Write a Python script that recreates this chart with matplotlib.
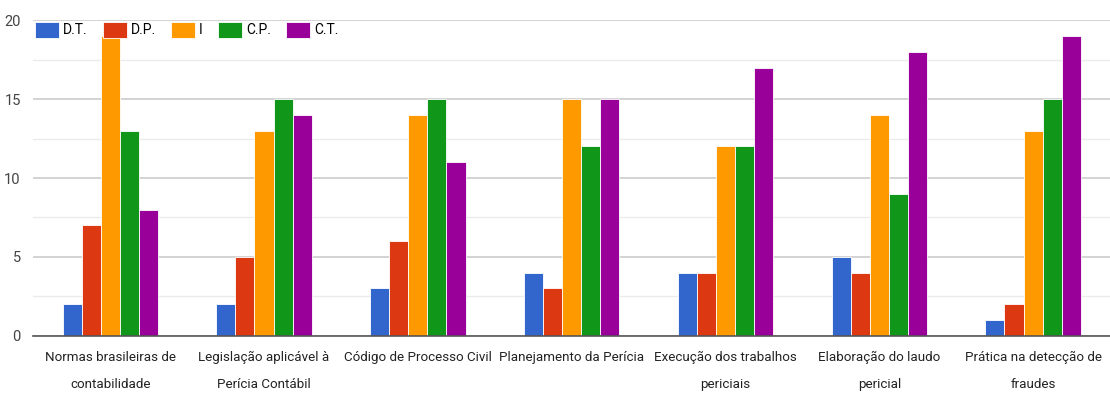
import matplotlib.pyplot as plt
import numpy as np

plt.rcParams['font.family'] = ['Roboto', 'DejaVu Sans']

categories = ["Normas brasileiras de\ncontabilidade",
              "Legislação aplicável à\nPerícia Contábil",
              "Código de Processo Civil",
              "Planejamento da Perícia",
              "Execução dos trabalhos\npericiais",
              "Elaboração do laudo\npericial",
              "Prática na detecção de\nfraudes"]
series = ["D.T.", "D.P.", "I", "C.P.", "C.T."]
dt = [2, 2, 3, 4, 4, 5, 1]
dp = [7, 5, 6, 3, 4, 4, 2]
ii = [19, 13, 14, 15, 12, 14, 13]
cp = [13, 15, 15, 12, 12, 9, 15]
ct = [8, 14, 11, 15, 17, 18, 19]
colors = ["#3366cc", "#dc3912", "#ff9900", "#109618", "#990099"]

fig = plt.figure(figsize=(11.1, 3.96), dpi=100)
ax = fig.add_axes([0.03, 0.152, 0.97, 0.797])

x = np.arange(len(categories))
w = 0.124
for i, (name, vals) in enumerate(zip(series, [dt, dp, ii, cp, ct])):
    ax.bar(x + (i - 2) * w, vals, w, color=colors[i], edgecolor='white',
           linewidth=0.6, label=name, zorder=3)

ax.set_xlim(-0.5, 6.5)
ax.set_ylim(0, 20)
ax.set_yticks([0, 5, 10, 15, 20])
ax.set_yticks([2.5, 7.5, 12.5, 17.5], minor=True)
ax.grid(axis='y', which='major', color='#cccccc', linewidth=1.2, zorder=0)
ax.grid(axis='y', which='minor', color='#ebebeb', linewidth=1, zorder=0)
ax.set_xticks(x)
ax.set_xticklabels(categories, fontsize=9.6, color='#222222', linespacing=2.35)
ax.tick_params(axis='x', length=0, pad=11)
ax.tick_params(axis='y', which='both', length=0, labelsize=10.5, labelcolor='#444444', pad=9)
for s in ['top', 'right', 'left']:
    ax.spines[s].set_visible(False)
ax.spines['bottom'].set_color('#555555')
ax.spines['bottom'].set_linewidth(1.2)
ax.spines['bottom'].set_zorder(4)

ax.legend(loc='lower left', bbox_to_anchor=(0.002, 0.945), ncol=5, frameon=False,
          fontsize=10, handlelength=1.7, handleheight=1.35, handletextpad=0.3,
          columnspacing=1.1, borderaxespad=0, borderpad=0)

fig.savefig('out.png', dpi=100)
